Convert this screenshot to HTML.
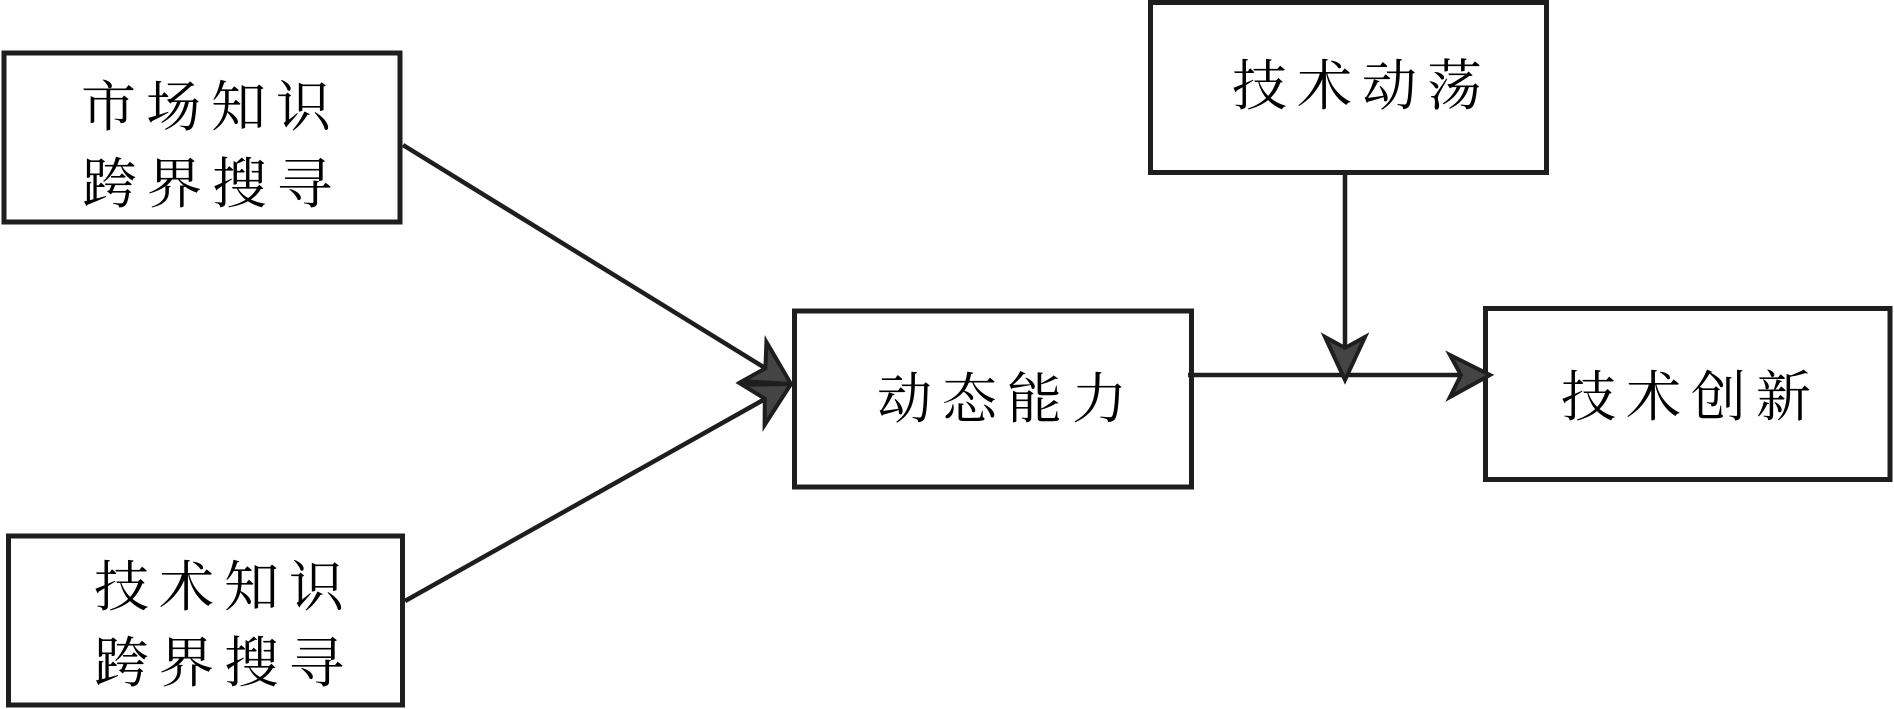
<!DOCTYPE html>
<html>
<head>
<meta charset="utf-8">
<style>
  html,body{margin:0;padding:0;background:#fff;}
  body{width:1894px;height:709px;overflow:hidden;}
  svg{display:block;}
  text{font-family:"Liberation Serif","Noto Serif CJK SC","Noto Sans CJK SC",serif;font-size:55px;letter-spacing:10px;fill:#000;}
</style>
</head>
<body>
<svg width="1894" height="709" viewBox="0 0 1894 709" xmlns="http://www.w3.org/2000/svg">
  <g fill="#fff" stroke="#1e1e1e" stroke-width="5">
    <rect x="4" y="53" width="396" height="169"/>
    <rect x="8.5" y="536" width="394" height="169"/>
    <rect x="794.5" y="311" width="397" height="176"/>
    <rect x="1150.5" y="2.5" width="396" height="170"/>
    <rect x="1485.5" y="308.5" width="404.5" height="171"/>
  </g>

  <g stroke="#1e1e1e" stroke-width="4.5" fill="none" stroke-linecap="butt">
    <line x1="403" y1="145" x2="765" y2="368"/>
    <line x1="405" y1="601" x2="765" y2="399"/>
    <line x1="1188" y1="375" x2="1462" y2="375"/>
    <line x1="1345" y1="173" x2="1345" y2="350"/>
  </g>

  <g fill="#444" stroke="#1e1e1e" stroke-width="4" stroke-linejoin="miter">
    <polygon points="791,384 766.4,341.9 765.4,368.3 742.4,381.1"/>
    <polygon points="791,384 764.6,425 764.8,398.6 742.2,384.8"/>
    <polygon points="1345,380 1325,337 1345,348 1365,337"/>
    <polygon points="1490,375 1450,355 1461,375 1450,397"/>
  </g>

  <text x="81" y="126">市场知识</text>
  <text x="82" y="203">跨界搜寻</text>
  <text x="94" y="606">技术知识</text>
  <text x="94" y="682">跨界搜寻</text>
  <text x="877" y="418">动态能力</text>
  <text x="1232" y="105">技术动荡</text>
  <text x="1561" y="416">技术创新</text>
</svg>
</body>
</html>
